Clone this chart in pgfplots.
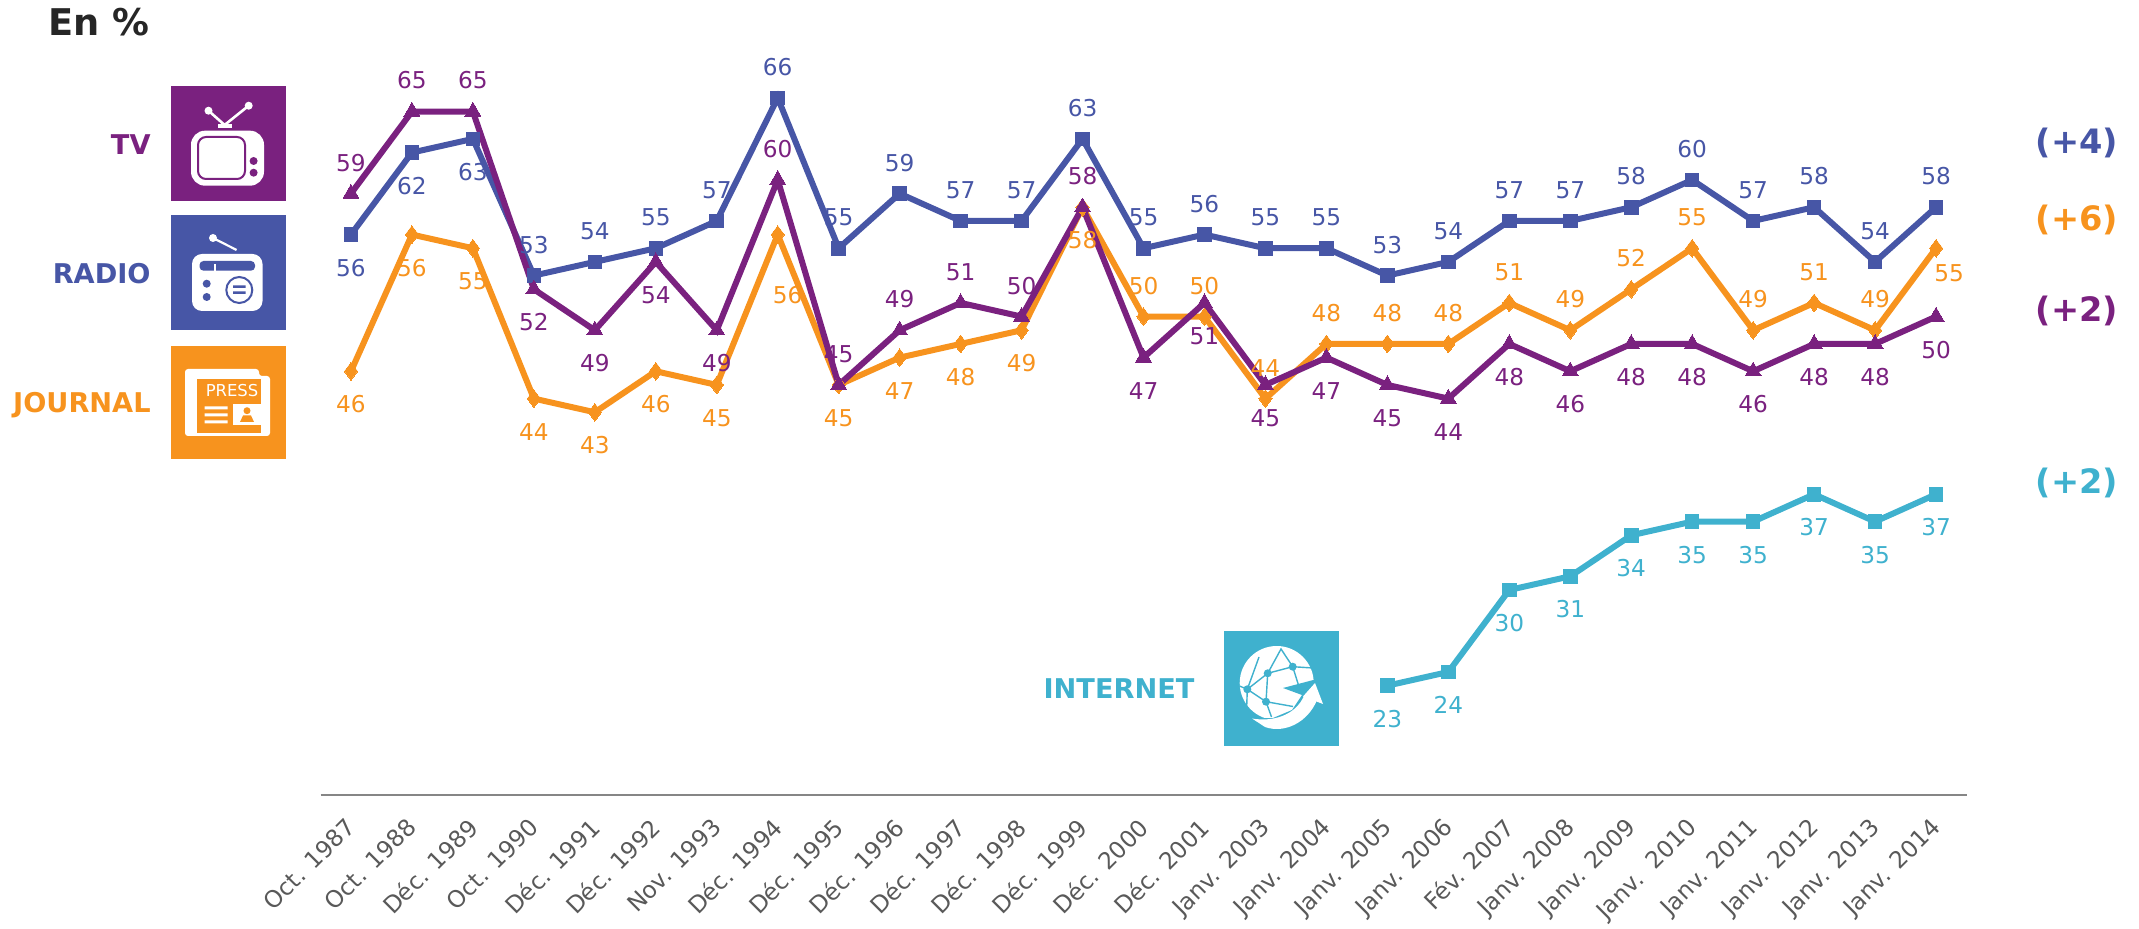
\documentclass[border=0pt]{standalone}
\usepackage{fontspec}
\setmainfont{DejaVu Sans}
\usepackage{pgfplots}
\usepackage{pgfplotstable}
\pgfplotsset{compat=1.18}
\definecolor{cradio}{HTML}{4756A6}
\definecolor{ctv}{HTML}{7A217F}
\definecolor{cjour}{HTML}{F7931E}
\definecolor{cnet}{HTML}{3FB1CE}
\definecolor{ctick}{HTML}{595959}
\definecolor{caxis}{HTML}{868686}
\definecolor{ctitle}{HTML}{262626}
% x, value, label shift in pt (dx, dy)
\pgfplotstableread{
x y dx dy
0 56 0 -16.5
1 62 0 -16.5
2 63 0 -16.5
3 53 0 15.5
4 54 0 15.5
5 55 0 15.5
6 57 0 15.5
7 66 0 15.5
8 55 0 15.5
9 59 0 15.5
10 57 0 15.5
11 57 0 15.5
12 63 0 15.5
13 55 0 15.5
14 56 0 15.5
15 55 0 15.5
16 55 0 15.5
17 53 0 15.5
18 54 0 15.5
19 57 0 15.5
20 57 0 15.5
21 58 0 15.5
22 60 0 15.5
23 57 0 15.5
24 58 0 15.5
25 54 0 15.5
26 58 0 15.5
}\radio
\pgfplotstableread{
x y dx dy
0 59 0 15.5
1 65 0 15.5
2 65 0 15.5
3 52 0 -16.5
4 49 0 -16.5
5 54 0 -16.5
6 49 0 -16.5
7 60 0 15.5
8 45 0 15.5
9 49 0 15.5
10 51 0 15.5
11 50 0 15.5
12 58 0 15.5
13 47 0 -16.5
14 51 0 -16.5
15 45 0 -16.5
16 47 0 -16.5
17 45 0 -16.5
18 44 0 -16.5
19 48 0 -16.5
20 46 0 -16.5
21 48 0 -16.5
22 48 0 -16.5
23 46 0 -16.5
24 48 0 -16.5
25 48 0 -16.5
26 50 0 -16.5
}\tv
\pgfplotstableread{
x y dx dy
0 46 0 -16.5
1 56 0 -16.5
2 55 0 -16.5
3 44 0 -16.5
4 43 0 -16.5
5 46 0 -16.5
6 45 0 -16.5
7 56 5 -30
8 45 0 -16.5
9 47 0 -16.5
10 48 0 -16.5
11 49 0 -16.5
12 58 0 -16.5
13 50 0 15.5
14 50 0 15.5
15 44 0 15.5
16 48 0 15.5
17 48 0 15.5
18 48 0 15.5
19 51 0 15.5
20 49 0 15.5
21 52 0 15.5
22 55 0 15.5
23 49 0 15.5
24 51 0 15.5
25 49 0 15.5
26 55 6.5 -12.5
}\journal
\pgfplotstableread{
x y dx dy
17 23 0 -16.5
18 24 0 -16.5
19 30 0 -16.5
20 31 0 -16.5
21 34 0 -16.5
22 35 0 -16.5
23 35 0 -16.5
24 37 0 -16.5
25 35 0 -16.5
26 37 0 -16.5
}\internet
\begin{document}
\begin{tikzpicture}
\path[use as bounding box] (0,0) rectangle (1069.5pt,-464.5pt);
\begin{scope}[x=0.5pt,y=-0.5pt]
% titles
\node[anchor=west,font=\fontsize{18.4}{22}\selectfont\bfseries,text=ctitle,inner sep=0] at (48,22) {En \%};
\node[anchor=east,font=\fontsize{13.6}{16}\selectfont\bfseries,text=ctv,inner sep=0] at (151,145) {TV};
\node[anchor=east,font=\fontsize{13.6}{16}\selectfont\bfseries,text=cradio,inner sep=0] at (151,274) {RADIO};
\node[anchor=east,font=\fontsize{13.6}{16}\selectfont\bfseries,text=cjour,inner sep=0] at (151,405) {JOURNAL};
\node[font=\fontsize{13.6}{16}\selectfont\bfseries,text=cnet,inner sep=0] at (1119,689) {INTERNET};
\node[font=\fontsize{16.8}{20}\selectfont\bfseries,text=cradio,inner sep=0] at (2077,143) {(+4)};
\node[font=\fontsize{16.8}{20}\selectfont\bfseries,text=cjour,inner sep=0] at (2077,220) {(+6)};
\node[font=\fontsize{16.8}{20}\selectfont\bfseries,text=ctv,inner sep=0] at (2077,311) {(+2)};
\node[font=\fontsize{16.8}{20}\selectfont\bfseries,text=cnet,inner sep=0] at (2077,483) {(+2)};
% TV icon
\fill[ctv] (170.5,86) rectangle (286,201);
\draw[white,line width=1.3pt] (208.5,110.7) -- (224.6,125) -- (248.7,105.7);
\fill[white] (208.5,110.7) circle (4) (248.7,105.7) circle (4);
\fill[white] (218,124) rectangle (232,128);
\fill[white,rounded corners=7pt] (191,130.7) rectangle (264,185.7);
\draw[ctv,line width=1pt,rounded corners=4pt] (198,137) rectangle (245,179);
\fill[ctv] (253.6,161) circle (4) (253.6,172.7) circle (4);
% Radio icon
\fill[cradio] (170.5,215) rectangle (286,330);
\draw[white,line width=1.1pt] (213,238) -- (236.6,250);
\fill[white] (213,238) circle (4);
\fill[white,rounded corners=5pt] (192,254) rectangle (262.5,311);
\fill[cradio,rounded corners=2pt] (199.5,261) rectangle (255,270.7);
\fill[white] (214,264) rectangle (215.5,271);
\fill[cradio] (206.7,283.7) circle (4) (206.7,297) circle (4);
\draw[cradio,line width=1pt,fill=white] (239.3,290) circle (13);
\fill[cradio] (233,285.5) rectangle (245.5,288) (233,291.5) rectangle (245.5,294);
% Press icon
\fill[cjour] (170.5,346) rectangle (286,459);
\fill[white,rounded corners=1.5pt] (185,369) -- (259,369) -- (259,376) -- (270,376) -- (270,436) -- (185,436) -- cycle;
\fill[cjour] (197,379) rectangle (261,433);
\node[text=white,font=\fontsize{8.2}{10}\selectfont,inner sep=0] at (232,391) {PRESS};
\fill[white] (204.5,406.5) rectangle (227.7,409.5) (204.5,413.5) rectangle (227.7,416.5) (204.5,420.5) rectangle (227.7,423.5);
\fill[white] (233,404) rectangle (261,425);
\fill[cjour] (247,410.7) circle (3.5);
\fill[cjour] (240,422) -- (254,422) -- (251,415.5) -- (243,415.5) -- cycle;
% Internet icon
\fill[cnet] (1224,631) rectangle (1339,746);
\fill[white] (1276.7,683) circle (37);
\begin{scope}[cnet,line width=0.7pt]
\draw (1239.5,686) -- (1247.3,689.3) -- (1267.7,673.3) -- (1292.7,666.7) -- (1313,668);
\draw (1247.3,689.3) -- (1266,701.7) -- (1293,706.5);
\draw (1267.7,673.3) -- (1266,701.7) -- (1271.5,717);
\draw (1267.7,673.3) -- (1281,649) -- (1292.7,666.7) -- (1300,690);
\draw (1247.3,689.3) -- (1259,657);
\draw (1247.3,689.3) -- (1246.5,711.7);
\fill (1247.3,689.3) circle (4) (1267.7,673.3) circle (4) (1292.7,666.7) circle (4) (1266,701.7) circle (4);
\end{scope}
\fill[cnet] (1283,688) -- (1317,679) -- (1324,690) -- (1320,712) -- (1302,726) -- (1280,732) -- (1250,718) -- (1273,718) -- (1292,710) -- (1302,695) -- cycle;
\fill[white] (1315,683) -- (1323,704) -- (1303,696.5) -- cycle;
\fill[white] (1252,718.5) .. controls (1272,722) and (1295,716) .. (1304,696) -- (1317,700) .. controls (1308,722) and (1285,734) .. (1265,727) -- cycle;
\end{scope}
\begin{axis}[
  at={(160.25pt,-397.5pt)},anchor=south west,
  scale only axis,width=823pt,height=375.9pt,
  xmin=-0.5,xmax=26.5,ymin=15,ymax=70,
  clip=false,
  axis y line=none,
  axis x line=bottom,
  x axis line style={draw=caxis,line width=1pt,-},
  xtick={0,...,26},
  xticklabels={Oct. 1987,Oct. 1988,Déc. 1989,Oct. 1990,Déc. 1991,Déc. 1992,Nov. 1993,Déc. 1994,Déc. 1995,Déc. 1996,Déc. 1997,Déc. 1998,Déc. 1999,Déc. 2000,Déc. 2001,Janv. 2003,Janv. 2004,Janv. 2005,Janv. 2006,Fév. 2007,Janv. 2008,Janv. 2009,Janv.\ \ 2010,Janv. 2011,Janv. 2012,Janv. 2013,Janv. 2014},
  major tick length=0pt,
  xticklabel style={rotate=45,anchor=north east,font=\fontsize{11.7}{14}\selectfont,text=ctick,inner sep=0pt,yshift=-5pt,xshift=-9.6pt},
  visualization depends on={\thisrow{dx}\as\labdx},
  visualization depends on={\thisrow{dy}\as\labdy},
  nodes near coords={\pgfmathprintnumber[assume math mode=true,precision=0]{\pgfplotspointmeta}},
  every node near coord/.append style={anchor=center,inner sep=0pt,xshift=\labdx pt,yshift=\labdy pt,font=\fontsize{11.6}{13}\selectfont},
  every axis plot/.append style={line width=3pt},
  point meta=y,
]
\addplot[color=cnet,mark=square*,mark size=3.4pt,mark options={solid,line width=0pt},every node near coord/.append style={text=cnet}] table[x=x,y=y] {\internet};
\addplot[color=cradio,mark=square*,mark size=3.4pt,mark options={solid,line width=0pt},every node near coord/.append style={text=cradio}] table[x=x,y=y] {\radio};
\addplot[color=cjour,mark=diamond*,mark size=4.4pt,mark options={solid,line width=0pt},every node near coord/.append style={text=cjour}] table[x=x,y=y] {\journal};
\addplot[color=ctv,mark=triangle*,mark size=4.6pt,mark options={solid,line width=0pt},every node near coord/.append style={text=ctv}] table[x=x,y=y] {\tv};
\end{axis}
\end{tikzpicture}
\end{document}
